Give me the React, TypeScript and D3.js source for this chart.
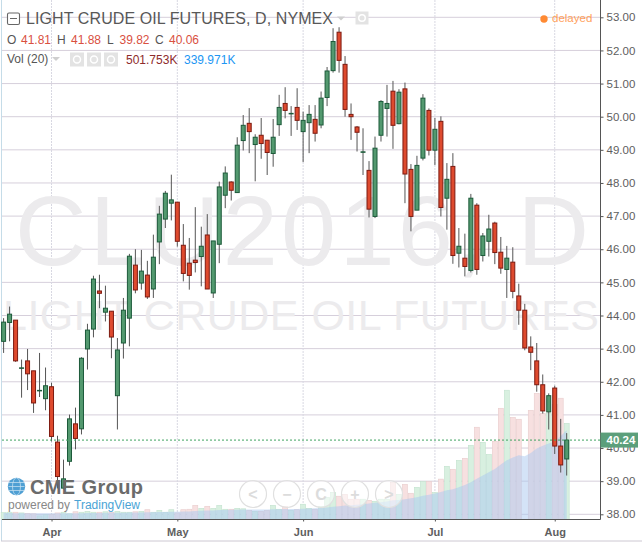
import React, { useEffect, useRef } from "react";
import * as d3 from "d3";

// session values, one entry per trading day
const opens = [
  43.22, 43.79, 43.86, 42.41, 42.63, 42.33, 41.73, 41.49, 41.85, 40.18, 38.79, 39.6, 40.73, 40.58, 42.99, 43.59,
  44.74, 44.1, 44.13, 41.58, 43.17, 43.92, 45.52, 44.98, 45.22, 44.8, 46.22, 46.91, 47.39, 47.42, 46.12, 45.58,
  45.67, 45.78, 46.43, 44.68, 46.15, 47.63, 48.03, 47.71, 49.28, 49.8, 49.16, 49.44, 49.29, 48.89, 49.76, 50.4,
  50.09, 50.28, 49.55, 49.82, 49.92, 49.75, 50.58, 51.39, 52.55, 51.58, 50.07, 49.69, 48.93, 48.38, 46.99, 49.44,
  50.25, 50.77, 49.79, 50.84, 48.41, 47.18, 48.75, 50.19, 48.99, 49.86, 47.54, 48.5, 45.88, 45.73, 45.36, 47.33,
  45.81, 46.24, 46.79, 45.91, 45.39, 45.61, 44.59, 44.16, 43.05, 42.63, 41.91, 41.09, 41.81, 40.06, 39.67,
];
const highs = [
  43.92, 44.27, 43.86, 42.67, 42.99, 42.33, 42.87, 42.43, 41.97, 40.37, 39.65, 41.01, 41.22, 42.74, 43.75, 45.2,
  45.23, 44.9, 44.13, 43.32, 44.53, 45.86, 46.0, 45.98, 45.65, 46.44, 47.31, 47.76, 48.25, 47.42, 46.76, 46.34,
  47.27, 46.68, 47.06, 46.25, 48.04, 48.5, 48.05, 49.38, 50.05, 50.26, 49.47, 49.96, 49.3, 49.93, 50.66, 50.89,
  50.32, 50.86, 50.15, 50.35, 50.35, 50.76, 51.5, 52.67, 52.7, 51.83, 50.4, 49.72, 49.65, 48.66, 49.4, 50.5,
  50.96, 51.08, 50.83, 51.03, 48.57, 48.82, 50.68, 50.25, 49.96, 50.01, 48.6, 48.9, 46.64, 46.47, 47.67, 47.39,
  46.49, 47.04, 46.83, 46.37, 46.1, 46.06, 44.96, 44.35, 43.37, 43.17, 42.22, 41.65, 41.88, 40.88, 40.45,
];
const lows = [
  42.87, 43.22, 42.6, 41.52, 41.75, 41.06, 41.54, 41.14, 40.2, 38.78, 38.75, 39.47, 39.96, 40.41, 42.37, 43.34,
  44.22, 43.82, 42.71, 40.56, 42.7, 43.07, 44.67, 44.78, 44.5, 44.53, 45.55, 46.64, 46.87, 46.08, 45.03, 44.78,
  45.3, 44.88, 44.8, 44.53, 45.58, 47.24, 47.47, 47.7, 48.98, 48.9, 48.05, 48.73, 48.24, 48.49, 49.42, 49.95,
  49.42, 49.6, 48.63, 48.9, 49.25, 49.65, 50.32, 51.33, 51.33, 50.0, 49.3, 48.95, 48.24, 46.96, 46.94, 49.25,
  49.4, 49.03, 49.77, 47.39, 46.54, 47.18, 48.68, 48.83, 48.54, 46.99, 46.59, 45.56, 45.45, 45.18, 45.3, 45.23,
  45.63, 45.78, 45.55, 45.26, 44.53, 44.52, 43.72, 42.95, 42.35, 41.7, 41.04, 40.56, 39.82, 39.26, 39.17,
];
const closes = [
  43.8, 44.04, 42.63, 42.42, 42.24, 41.36, 41.74, 41.88, 40.35, 39.14, 39.07, 40.88, 40.29, 42.71, 43.56, 45.1,
  44.67, 44.22, 43.35, 42.96, 44.16, 45.79, 44.77, 45.34, 44.56, 45.76, 47.06, 47.69, 47.49, 46.24, 45.27, 45.21,
  45.6, 46.09, 44.8, 46.25, 47.88, 48.3, 47.78, 49.14, 49.74, 49.55, 49.38, 49.19, 48.92, 49.38, 50.28, 50.19,
  50.1, 49.89, 49.89, 50.07, 49.5, 50.56, 51.38, 52.27, 51.7, 50.22, 50.0, 49.53, 48.94, 47.21, 49.05, 50.46,
  50.4, 49.74, 50.74, 48.27, 46.99, 48.53, 50.56, 48.99, 49.62, 47.26, 48.11, 45.81, 46.09, 45.48, 47.54, 45.39,
  46.4, 46.61, 45.9, 45.43, 45.73, 44.73, 44.16, 43.02, 42.89, 41.91, 41.12, 41.58, 40.06, 39.49, 40.24,
];
// volume and its 20 day average, in thousands
const volumes = [
  29, 31, 31, 28, 26, 24, 15, 20, 22, 28, 31, 24, 33, 31, 35, 31, 31, 33, 31, 35, 31, 31, 33, 35, 42, 31, 39, 31,
  42, 28, 42, 44, 61, 48, 57, 48, 61, 44, 44, 48, 46, 39, 35, 35, 39, 61, 44, 57, 39, 42, 66, 48, 44, 57, 96, 118,
  101, 109, 88, 88, 88, 83, 79, 88, 88, 161, 109, 153, 114, 140, 165, 165, 117, 176, 232, 219, 258, 267, 324, 403,
  337, 284, 341, 486, 565, 446, 438, 0, 477, 551, 464, 464, 502, 530, 420,
];
const volumeAverage = [
  28, 28, 27, 27, 27, 27, 26, 26, 26, 26, 27, 27, 27, 27, 28, 28, 28, 29, 29, 29, 29, 30, 30, 30, 31, 31, 32, 32,
  33, 33, 34, 34, 36, 37, 38, 39, 41, 41, 42, 42, 43, 43, 43, 43, 43, 44, 44, 45, 45, 45, 46, 47, 48, 50, 52, 55,
  57, 60, 62, 64, 66, 69, 72, 75, 78, 83, 84, 88, 92, 97, 103, 108, 113, 120, 127, 132, 140, 150, 162, 178, 192,
  206, 220, 240, 258, 270, 280, 276, 290, 310, 322, 332, 340, 365, 390,
];
const priceTicks = [53, 52, 51, 50, 49, 48, 47, 46, 45, 44, 43, 42, 41, 40, 39, 38];
const monthNames = ["Apr", "May", "Jun", "Jul", "Aug"];
const monthBars = [8, 29, 50, 72, 92];
const lastPrice = 40.24;

const SANS = "'Liberation Sans', Arial, sans-serif";

const App = () => {
  const ref = useRef<SVGSVGElement>(null);

  useEffect(() => {
    const svg = d3.select(ref.current);
    svg.selectAll("*").remove();

    const x = d3.scaleLinear().domain([0, opens.length - 1]).range([3.6, 566.7]);
    const y = d3.scaleLinear().domain([38, 53]).range([514.3, 17.3]);
    const yVol = d3.scaleLinear().domain([0, 580]).range([519.3, 386.8]);
    const axisX = 600.5;
    const axisY = 519.5;

    // frame
    svg.append("rect").attr("width", 642).attr("height", 542).attr("fill", "#fff");
    svg.append("line").attr("x1", 1.5).attr("x2", 1.5).attr("y1", 0).attr("y2", 541).attr("stroke", "#c5dce8");
    svg.append("line").attr("x1", 1).attr("x2", 642).attr("y1", 541).attr("y2", 541).attr("stroke", "#cdc8d2");

    // grid
    svg.append("g").selectAll("line").data(priceTicks).join("line")
      .attr("x1", 2).attr("x2", axisX)
      .attr("y1", (d) => y(d)).attr("y2", (d) => y(d))
      .attr("stroke", "#d6cfdb");
    svg.append("g").selectAll("line").data(monthBars).join("line")
      .attr("x1", (d) => x(d)).attr("x2", (d) => x(d))
      .attr("y1", 0).attr("y2", axisY)
      .attr("stroke", "#d8d8e2").attr("stroke-dasharray", "2,1");

    // watermark
    svg.append("text").attr("x", 15).attr("y", 265)
      .attr("font-family", SANS).attr("font-size", 99).attr("fill", "#ecebed")
      .attr("textLength", 574).attr("lengthAdjust", "spacing")
      .text("CLU2016, D");
    svg.append("text").attr("x", 3).attr("y", 330)
      .attr("font-family", SANS).attr("font-size", 43).attr("fill", "#ecebed")
      .attr("textLength", 596).attr("lengthAdjust", "spacing")
      .text("LIGHT CRUDE OIL FUTURES");

    // volume
    svg.append("g").selectAll("rect").data(volumes).join("rect")
      .attr("x", (_, i) => x(i) - 2.5).attr("width", 5)
      .attr("y", (d) => yVol(d)).attr("height", (d) => yVol(0) - yVol(d))
      .attr("fill", (_, i) => (closes[i] >= opens[i] ? "#d8f0e0" : "#f7e0e0"))
      .attr("stroke", (_, i) => (closes[i] >= opens[i] ? "#c2e2ce" : "#e8cccc"))
      .attr("stroke-width", 0.6);
    const maArea = d3.area<number>()
      .x((_, i) => x(i))
      .y0(yVol(0))
      .y1((d) => yVol(d));
    svg.append("path").datum(volumeAverage).attr("d", maArea)
      .attr("fill", "#a9c8ef").attr("fill-opacity", 0.5);

    // candles
    const candles = svg.append("g").selectAll("g").data(opens).join("g");
    candles.append("line")
      .attr("x1", (_, i) => x(i)).attr("x2", (_, i) => x(i))
      .attr("y1", (_, i) => y(highs[i])).attr("y2", (_, i) => y(lows[i]))
      .attr("stroke", "#555");
    candles.append("rect")
      .attr("x", (_, i) => x(i) - 2).attr("width", 4)
      .attr("y", (d, i) => y(Math.max(d, closes[i])))
      .attr("height", (d, i) => Math.max(0.5, Math.abs(y(d) - y(closes[i]))))
      .attr("fill", (d, i) => (closes[i] >= d ? "#53996f" : "#de4a2e"))
      .attr("stroke", (d, i) => (closes[i] >= d ? "#1c5a3a" : "#7d1a10"))
      .attr("stroke-width", 1);

    // last price line
    svg.append("line").attr("x1", 2).attr("x2", axisX)
      .attr("y1", y(lastPrice)).attr("y2", y(lastPrice))
      .attr("stroke", "#3fa35f").attr("stroke-dasharray", "2,2");

    // axes
    const yAxis = d3.axisRight(y).tickValues(priceTicks).tickSize(3).tickPadding(3)
      .tickFormat((d) => d3.format(".2f")(d as number));
    const yG = svg.append("g").attr("transform", `translate(${axisX},0)`).call(yAxis);
    yG.select(".domain").remove();
    yG.selectAll("line").attr("stroke", "#555");
    yG.selectAll("text").attr("fill", "#5e5e5e").attr("font-family", SANS).attr("font-size", 11.5);
    svg.append("line").attr("x1", axisX).attr("x2", axisX).attr("y1", 0).attr("y2", axisY).attr("stroke", "#555");

    const xAxis = d3.axisBottom(x).tickValues(monthBars).tickSize(2).tickPadding(7)
      .tickFormat((_, i) => monthNames[i]);
    const xG = svg.append("g").attr("transform", `translate(0,${axisY})`).call(xAxis);
    xG.select(".domain").remove();
    xG.selectAll("line").attr("stroke", "#555");
    xG.selectAll("text").attr("fill", "#5e5e5e").attr("font-family", SANS).attr("font-size", 11).attr("font-weight", "bold");
    svg.append("line").attr("x1", 2).attr("x2", axisX).attr("y1", axisY).attr("y2", axisY).attr("stroke", "#555");

    // last price tag
    svg.append("rect").attr("x", axisX).attr("y", y(lastPrice) - 7.5).attr("width", 37.5).attr("height", 15).attr("fill", "#5c9f7b");
    svg.append("text").attr("x", axisX + 6).attr("y", y(lastPrice) + 4.3)
      .attr("fill", "#fff").attr("font-family", SANS).attr("font-size", 11.5).attr("font-weight", "bold")
      .text(d3.format(".2f")(lastPrice));

    // header
    const label = (tx: number, ty: number, s: string, fill: string, size = 12) =>
      svg.append("text").attr("x", tx).attr("y", ty).attr("fill", fill)
        .attr("font-family", SANS).attr("font-size", size).text(s);
    const faintIcon = (cx: number, cy: number, r: number) => {
      svg.append("rect").attr("x", cx - r).attr("y", cy - r).attr("width", r * 2).attr("height", r * 2).attr("fill", "#e3e3e3");
      svg.append("circle").attr("cx", cx).attr("cy", cy).attr("r", r / 2).attr("fill", "none").attr("stroke", "#fff").attr("stroke-width", 1.5);
    };
    const caret = (cx: number, cy: number) =>
      svg.append("path").attr("d", `M${cx - 4},${cy - 2}L${cx + 4},${cy - 2}L${cx},${cy + 2}Z`).attr("fill", "#cfcfcf");

    svg.append("rect").attr("x", 7.5).attr("y", 13).attr("width", 12).attr("height", 11.5).attr("rx", 1.5)
      .attr("fill", "#fff").attr("stroke", "#666").attr("stroke-width", 1.1);
    svg.append("line").attr("x1", 10).attr("x2", 17).attr("y1", 18.5).attr("y2", 18.5).attr("stroke", "#666");
    label(26, 24, "LIGHT CRUDE OIL FUTURES, D, NYMEX", "#585858", 16).attr("textLength", 307);
    caret(341, 18.5);
    faintIcon(362, 18, 6.5);

    const ohlcLabels = ["O", "H", "L", "C"];
    const ohlcValues = ["41.81", "41.88", "39.82", "40.06"];
    const labelX = [7, 57, 107, 155];
    const valueX = [21, 71, 119.5, 169];
    ohlcLabels.forEach((s, i) => {
      label(labelX[i], 44, s, "#555");
      label(valueX[i], 44, ohlcValues[i], "#d9503f");
    });
    label(7, 63, "Vol (20)", "#555");
    caret(56, 59);
    faintIcon(77, 59.5, 7);
    faintIcon(94, 59.5, 7);
    faintIcon(111, 59.5, 7);
    label(126, 64, "501.753K", "#8e2b2b");
    label(184, 64, "339.971K", "#2196f3");

    svg.append("circle").attr("cx", 544).attr("cy", 19).attr("r", 3.7).attr("fill", "#ff8a33");
    label(552, 22, "delayed", "#ff9f5c", 11.5);

    // logo
    svg.append("circle").attr("cx", 16.5).attr("cy", 486.5).attr("r", 8.7).attr("fill", "#4f9fd3");
    svg.append("ellipse").attr("cx", 16.5).attr("cy", 486.5).attr("rx", 4).attr("ry", 8.7)
      .attr("fill", "none").attr("stroke", "#cfe5f3").attr("stroke-width", 0.7);
    [-4, 0, 4].forEach((dy) => {
      svg.append("line").attr("x1", 8.5).attr("x2", 24.5)
        .attr("y1", 486.5 + dy).attr("y2", 486.5 + dy)
        .attr("stroke", "#cfe5f3").attr("stroke-width", 0.7);
    });
    label(30, 494, "CME Group", "#6b6b6b", 20).attr("font-weight", "bold").attr("textLength", 113);
    label(8, 509, "powered by", "#888");
    label(74, 509, "TradingView", "#4aa3d5");

    // chart navigation buttons
    const navX = [253, 287, 321, 355, 389];
    const navGlyph = ["<", "\u2212", "C", "+", ">"];
    navX.forEach((cx, i) => {
      svg.append("circle").attr("cx", cx).attr("cy", 494).attr("r", 13.5)
        .attr("fill", "#fff").attr("fill-opacity", 0.5).attr("stroke", "#e0e0e0").attr("stroke-width", 1.2);
      svg.append("text").attr("x", cx).attr("y", 500).attr("text-anchor", "middle")
        .attr("font-family", SANS).attr("font-size", 16).attr("font-weight", "bold")
        .attr("fill", "#dcdcdc").text(navGlyph[i]);
    });
  }, []);

  return (
    <svg
      ref={ref}
      width={642}
      height={542}
      style={{ position: "fixed", left: 0, top: 0, display: "block" }}
    />
  );
};

export default App;
